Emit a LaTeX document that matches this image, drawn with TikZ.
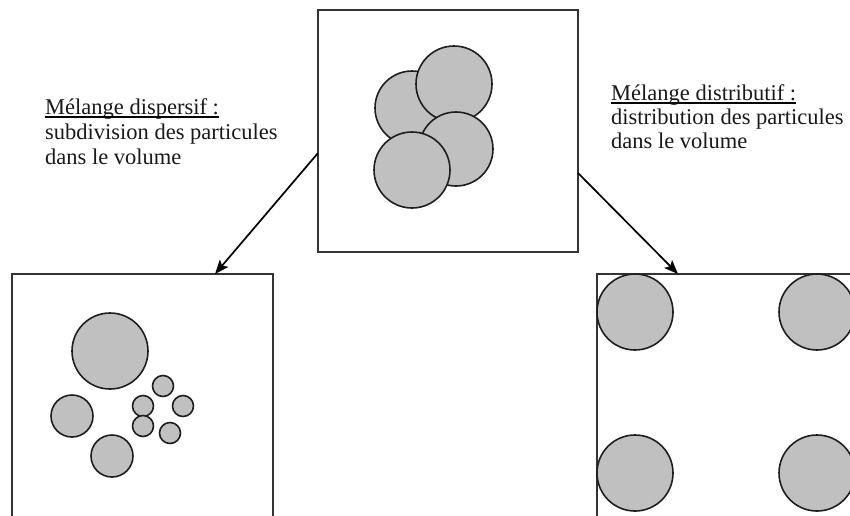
\documentclass[tikz,border=0pt]{standalone}
\usepackage{fontspec}
\setmainfont{Liberation Serif}
\usetikzlibrary{arrows.meta,calc}
\definecolor{pfill}{RGB}{192,192,192}
\definecolor{pline}{RGB}{30,30,30}
\definecolor{bline}{RGB}{51,51,51}
\begin{document}
\begin{tikzpicture}[x=1pt,y=-1pt,
  panel/.style={rectangle, draw=bline, line width=1.5pt, inner sep=0pt, outer sep=0pt, anchor=north west},
  particle/.style={circle, draw=pline, line width=1.6pt, fill=pfill, inner sep=0pt, minimum size=#1},
  lbl/.style={anchor=base west, inner sep=0pt, text=black!90, font=\fontsize{22.5}{25}\selectfont},
  link/.style={line width=1.7pt, -{Stealth[length=14pt,width=11pt,inset=3pt]}}]
\clip (0,0) rectangle (850,515);
% panels
\node[panel, minimum width=260pt, minimum height=242pt] (top) at (318,10) {};
\node[panel, minimum width=261pt, minimum height=270pt] (lb) at (12,274) {};
\node[panel, minimum width=280pt, minimum height=270pt] (rb) at (597,274) {};
% top cluster
\node[particle=74pt] (ta) at (412,108) {};
\node[particle=76pt] (tb) at (454,84) {};
\node[particle=74pt] (tc) at (456,149) {};
\node[particle=76pt] (td) at (412,170) {};
% dispersive
\node[particle=76pt] (d1) at (110,351) {};
\node[particle=42pt] (d2) at (72,416) {};
\node[particle=42pt] (d3) at (112,456) {};
\node[particle=21pt] (s1) at (163,386) {};
\node[particle=21pt] (s2) at (143,406) {};
\node[particle=21pt] (s3) at (183,406) {};
\node[particle=21pt] (s4) at (143,426) {};
\node[particle=21pt] (s5) at (170,433) {};
% distributive
\node[particle=76pt] (r1) at (635,312) {};
\node[particle=76pt] (r2) at (817,312) {};
\node[particle=76pt] (r3) at (635,473) {};
\node[particle=76pt] (r4) at (817,473) {};
% arrows
\draw[link] ($(top.north west)+(0,143)$) -- ($(lb.north west)+(203,0)$);
\draw[link] ($(top.north east)+(0,163)$) -- ($(rb.north west)+(81,0)$);
% labels
\node[lbl] (l1) at (45,114) {Mélange dispersif :};
\node[lbl] (l2) at (45,139) {subdivision des particules};
\node[lbl] (l3) at (45,164) {dans le volume};
\draw[line width=1.2pt] ($(l1.base west)+(0,3)$) -- ($(l1.base east)+(0,3)$);
\node[lbl] (r1l) at (611,100) {Mélange distributif :};
\node[lbl] (r2l) at (611,124) {distribution des particules};
\node[lbl] (r3l) at (611,148) {dans le volume};
\draw[line width=1.2pt] ($(r1l.base west)+(0,3)$) -- ($(r1l.base east)+(0,3)$);
\end{tikzpicture}
\end{document}
